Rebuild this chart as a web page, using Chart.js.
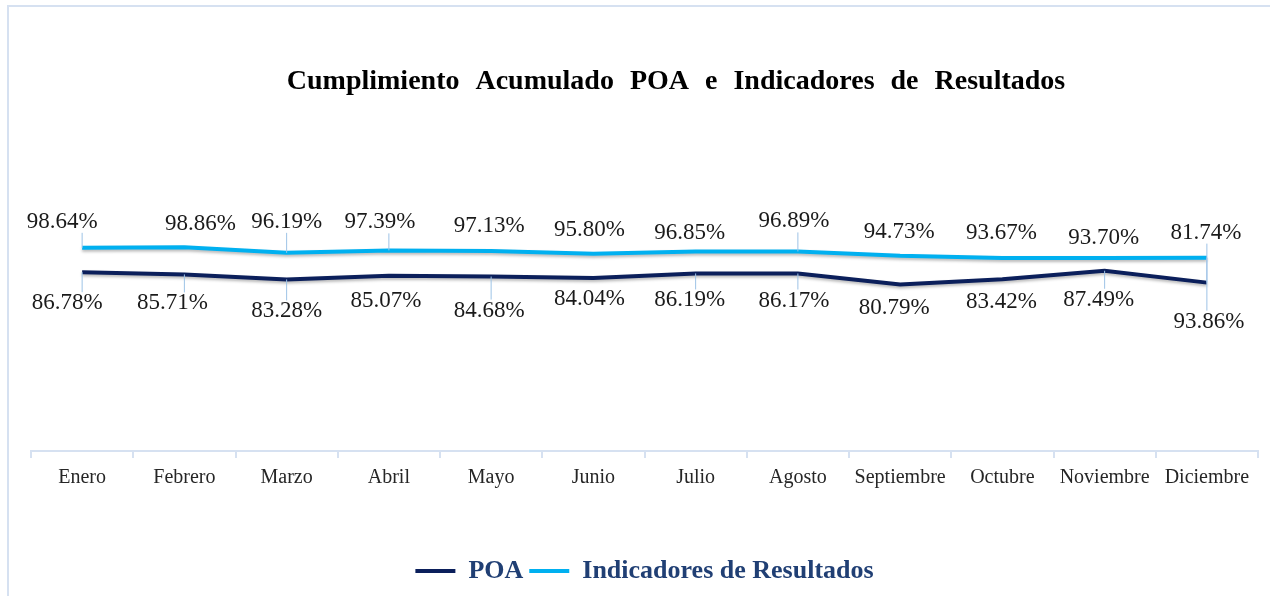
<!DOCTYPE html>
<html>
<head>
<meta charset="utf-8">
<script src="https://cdn.jsdelivr.net/npm/chart.js@4/dist/chart.umd.min.js"></script>
<style>
  html, body { margin: 0; padding: 0; background: #fff; }
  #wrap { width: 1270px; height: 596px; position: relative; }
</style>
</head>
<body>
<div id="wrap"><canvas id="grafico" width="1270" height="596"></canvas></div>
<script>
// Datos
const meses = ["Enero", "Febrero", "Marzo", "Abril", "Mayo", "Junio", "Julio", "Agosto", "Septiembre", "Octubre", "Noviembre", "Diciembre"];
const poa = [86.78, 85.71, 83.28, 85.07, 84.68, 84.04, 86.19, 86.17, 80.79, 83.42, 87.49, 81.74];
const indicadores = [98.64, 98.86, 96.19, 97.39, 97.13, 95.80, 96.85, 96.89, 94.73, 93.67, 93.70, 93.86];

const titulo = "Cumplimiento Acumulado POA e Indicadores de Resultados";
const serif = "'Liberation Serif', 'Times New Roman', serif";

// desplazamiento de cada etiqueta respecto a su punto (px)
const despPoa = [[-15, 31], [-12, 29], [0, 32], [-3, 25], [-2, 34], [-4, 21], [-6, 27], [-4, 27], [-6, 23], [-1, 23], [-6, 29], [-1, -50]];
const despInd = [[-20, -26], [16, -23], [0, -31], [-9, -28], [-2, -25], [-4, -24], [-6, -19], [-4, -30], [-1, -24], [-1, -25], [-1, -20], [2, 64]];

// marco, título y sombra de las líneas
const decoracion = {
  id: "decoracion",
  beforeDraw(chart) {
    const ctx = chart.ctx;
    ctx.save();
    ctx.strokeStyle = "#D6E1F1";
    ctx.lineWidth = 2;
    ctx.beginPath();
    ctx.moveTo(8, 596);
    ctx.lineTo(8, 6);
    ctx.lineTo(1270, 6);
    ctx.stroke();

    // título con espaciado algo ancho entre palabras
    ctx.font = "bold 28px " + serif;
    ctx.fillStyle = "#000";
    ctx.textBaseline = "middle";
    const palabras = titulo.split(" ");
    const extra = 9;
    const esp = ctx.measureText(" ").width + extra;
    const anchos = palabras.map(p => ctx.measureText(p).width);
    const total = anchos.reduce((a, b) => a + b, 0) + esp * (palabras.length - 1);
    let x = 676 - total / 2;
    palabras.forEach((p, i) => {
      ctx.fillText(p, x, 82);
      x += anchos[i] + esp;
    });
    ctx.restore();
  },
  beforeDatasetDraw(chart) {
    const ctx = chart.ctx;
    ctx.save();
    ctx.shadowColor = "rgba(0,0,0,0.28)";
    ctx.shadowBlur = 3;
    ctx.shadowOffsetY = 2;
  },
  afterDatasetDraw(chart) {
    chart.ctx.restore();
  }
};

// etiquetas de datos con líneas guía
const etiquetas = {
  id: "etiquetas",
  afterDatasetsDraw(chart) {
    const ctx = chart.ctx;
    const desp = [despPoa, despInd];
    ctx.save();
    ctx.font = "23px " + serif;
    ctx.textAlign = "center";
    ctx.textBaseline = "middle";
    chart.data.datasets.forEach((ds, d) => {
      const meta = chart.getDatasetMeta(d);
      meta.data.forEach((pt, i) => {
        const texto = ds.data[i].toFixed(2) + "%";
        const lx = pt.x + desp[d][i][0];
        const ly = pt.y + desp[d][i][1];
        const w = ctx.measureText(texto).width;
        const h = 22;
        const cx = Math.min(Math.max(pt.x, lx - w / 2), lx + w / 2);
        const cy = Math.min(Math.max(pt.y, ly - h / 2), ly + h / 2);
        if (Math.hypot(cx - pt.x, cy - pt.y) > 14) {
          ctx.strokeStyle = "#9DC3E6";
          ctx.lineWidth = 1;
          ctx.beginPath();
          ctx.moveTo(cx, cy);
          ctx.lineTo(pt.x, pt.y);
          ctx.stroke();
        }
        ctx.fillStyle = "#1a1a1a";
        ctx.fillText(texto, lx, ly);
      });
    });
    ctx.restore();
  }
};

new Chart(document.getElementById("grafico"), {
  type: "line",
  data: {
    labels: meses,
    datasets: [
      {
        label: "POA",
        data: poa,
        borderColor: "#0B1F5B",
        backgroundColor: "#0B1F5B",
        borderWidth: 4,
        pointRadius: 0,
        tension: 0
      },
      {
        label: "Indicadores de Resultados",
        data: indicadores,
        borderColor: "#00B0F0",
        backgroundColor: "#00B0F0",
        borderWidth: 4,
        pointRadius: 0,
        tension: 0
      }
    ]
  },
  options: {
    responsive: false,
    animation: false,
    layout: { padding: { top: 245, left: 31, right: 12, bottom: 2 } },
    plugins: {
      title: { display: false },
      tooltip: { enabled: false },
      legend: {
        position: "bottom",
        labels: {
          usePointStyle: true,
          pointStyle: "line",
          pointStyleWidth: 40,
          padding: 6,
          color: "#203F74",
          font: { family: serif, size: 26, weight: "bold" }
        }
      }
    },
    scales: {
      x: {
        offset: true,
        grid: {
          offset: true,
          drawOnChartArea: false,
          drawTicks: true,
          tickLength: 7,
          color: "#D6E1F1",
          lineWidth: 2
        },
        border: { display: true, color: "#D6E1F1", width: 2 },
        ticks: { color: "#262626", padding: 8, font: { family: serif, size: 20 } },
        afterFit(s) { s.height = 101; }
      },
      y: {
        display: false,
        min: 0,
        max: 100
      }
    }
  },
  plugins: [decoracion, etiquetas]
});
</script>
</body>
</html>
